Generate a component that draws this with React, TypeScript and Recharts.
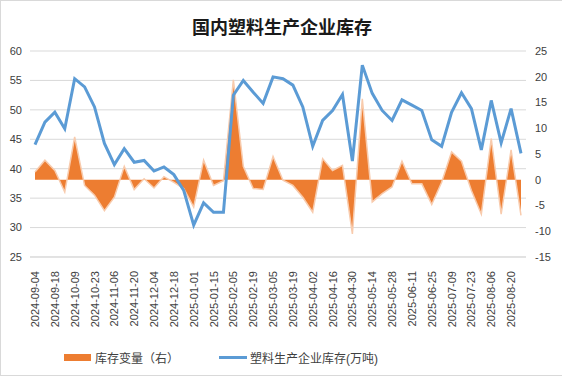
import {
  Area,
  CartesianGrid,
  ComposedChart,
  Legend,
  Line,
  XAxis,
  YAxis,
} from 'recharts'

const dates = [
  '2024-09-04', '2024-09-11', '2024-09-18', '2024-09-25', '2024-10-09',
  '2024-10-16', '2024-10-23', '2024-10-30', '2024-11-06', '2024-11-13',
  '2024-11-20', '2024-11-27', '2024-12-04', '2024-12-11', '2024-12-18',
  '2024-12-25', '2025-01-01', '2025-01-08', '2025-01-15', '2025-01-22',
  '2025-02-05', '2025-02-12', '2025-02-19', '2025-02-26', '2025-03-05',
  '2025-03-12', '2025-03-19', '2025-03-26', '2025-04-02', '2025-04-09',
  '2025-04-16', '2025-04-23', '2025-04-30', '2025-05-07', '2025-05-14',
  '2025-05-21', '2025-05-28', '2025-06-04', '2025-06-11', '2025-06-18',
  '2025-06-25', '2025-07-02', '2025-07-09', '2025-07-16', '2025-07-23',
  '2025-07-30', '2025-08-06', '2025-08-13', '2025-08-20', '2025-08-27',
]

// 塑料生产企业库存(万吨), left axis
const inventory = [
  44.1, 47.9, 49.6, 46.8, 55.3, 53.9, 50.5, 44.3, 40.7, 43.4,
  41.1, 41.4, 39.6, 40.3, 39.0, 36.3, 30.4, 34.2, 32.6, 32.6,
  52.5, 55.0, 53.0, 51.1, 55.6, 55.3, 54.2, 50.5, 43.8, 48.2,
  49.9, 52.6, 41.3, 57.6, 52.8, 49.9, 48.2, 51.7, 50.8, 49.9,
  44.9, 43.8, 49.6, 52.9, 50.2, 43.2, 51.6, 44.4, 50.2, 42.6,
]

// 库存变量（右）, right axis
const change = [
  1.5, 3.8, 1.8, -2.4, 8.3, -1.1, -3.0, -6.0, -3.4, 2.6,
  -1.9, 0.2, -1.6, 0.6, -0.5, -1.7, -5.3, 3.8, -1.1, -0.2,
  19.4, 2.6, -1.7, -1.9, 4.5, -0.1, -1.1, -3.4, -6.3, 4.1,
  1.8, 2.8, -10.5, 15.7, -4.3, -2.7, -1.4, 3.6, -0.8, -0.8,
  -4.8, -0.5, 5.4, 3.6, -2.1, -6.7, 8.0, -6.7, 5.8, -6.9,
]

const leftTicks = [25, 30, 35, 40, 45, 50, 55, 60]
const rightTicks = [-15, -10, -5, 0, 5, 10, 15, 20, 25]

const data = dates.map((d, i) => ({ date: d, inventory: inventory[i], change: change[i] }))

const FONT = '"Liberation Sans", "Noto Sans CJK SC", sans-serif'
const ORANGE = '#ED7D31'
const BLUE = '#5B9BD5'

function DateTick(props: any) {
  const { x, y, payload } = props
  return (
    <text
      transform={`translate(${x + 4},${y + 6}) rotate(-90)`}
      textAnchor="end"
      fontSize={11}
      fontFamily={FONT}
      fill="#404040"
    >
      {payload.value}
    </text>
  )
}

function LegendBox() {
  return (
    <div
      style={{
        display: 'flex',
        alignItems: 'center',
        paddingLeft: 64,
        fontFamily: FONT,
        fontSize: 12,
        color: '#404040',
        height: 24,
      }}
    >
      <span style={{ width: 27, height: 7, background: ORANGE, marginRight: 4 }} />
      <span style={{ marginRight: 40 }}>库存变量（右）</span>
      <span style={{ width: 28, height: 3, background: BLUE, marginRight: 3 }} />
      <span>塑料生产企业库存(万吨)</span>
    </div>
  )
}

export default function App() {
  return (
    <div
      style={{
        position: 'absolute',
        top: 0,
        left: 0,
        width: 562,
        height: 376,
        background: '#fff',
        boxSizing: 'border-box',
        borderTop: '1px solid #d9d9d9',
        borderLeft: '1px solid #d9d9d9',
        borderBottom: '1px solid #d9d9d9',
      }}
    >
      <div
        style={{
          position: 'absolute',
          top: 12,
          left: 0,
          width: 562,
          textAlign: 'center',
          fontFamily: '"Noto Sans CJK SC", sans-serif',
          fontWeight: 700,
          fontSize: 18,
          color: '#1a1a1a',
          lineHeight: '26px',
        }}
      >
        国内塑料生产企业库存
      </div>
      <ComposedChart
        width={560}
        height={374}
        data={data}
        margin={{ top: 50, right: 5, bottom: 6, left: -1 }}
      >
        <CartesianGrid vertical={false} stroke="#d9d9d9" yAxisId="left" />
        <XAxis
          dataKey="date"
          interval={1}
          tick={<DateTick />}
          tickLine={false}
          axisLine={{ stroke: '#d9d9d9' }}
          height={88}
          padding={{ left: 5, right: 5 }}
        />
        <YAxis
          yAxisId="left"
          domain={[25, 60]}
          ticks={leftTicks}
          width={30}
          tickLine={false}
          axisLine={false}
          tickSize={0}
          tickMargin={8}
          tick={{ fontSize: 11, fill: '#404040', fontFamily: FONT }}
        />
        <YAxis
          yAxisId="right"
          orientation="right"
          domain={[-15, 25]}
          ticks={rightTicks}
          width={30}
          tickLine={false}
          axisLine={false}
          tickSize={0}
          tickMargin={9}
          tick={{ fontSize: 11, fill: '#404040', fontFamily: FONT, textAnchor: 'start' }}
        />
        <Legend verticalAlign="bottom" height={24} content={<LegendBox />} />
        <Area
          yAxisId="right"
          type="linear"
          dataKey="change"
          name="库存变量（右）"
          baseValue={0}
          fill={ORANGE}
          fillOpacity={1}
          stroke="#F8CBAD"
          strokeWidth={1.5}
          isAnimationActive={false}
        />
        <Line
          yAxisId="left"
          type="linear"
          dataKey="inventory"
          name="塑料生产企业库存(万吨)"
          stroke={BLUE}
          strokeWidth={3}
          dot={false}
          isAnimationActive={false}
        />
      </ComposedChart>
    </div>
  )
}
